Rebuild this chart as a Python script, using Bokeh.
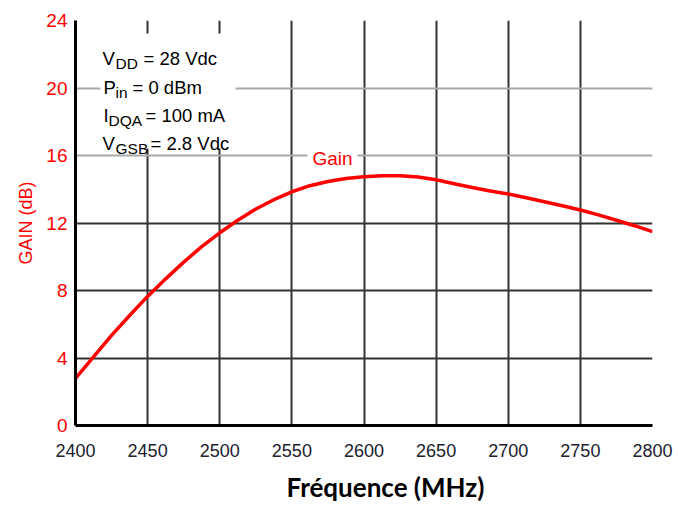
from bokeh.plotting import figure
from bokeh.models import Range1d, FixedTicker, Grid, Label, BoxAnnotation, Title
from bokeh.embed import file_html
from bokeh.resources import INLINE

# ---- data ----
freq_mhz = [2400, 2412.5, 2425, 2437.5, 2450, 2462.5, 2475, 2487.5, 2500,
            2512.5, 2525, 2537.5, 2550, 2562.5, 2575, 2587.5, 2600,
            2612.5, 2625, 2637.5, 2650, 2662.5, 2675, 2687.5, 2700,
            2712.5, 2725, 2737.5, 2750, 2762.5, 2775, 2787.5, 2800]
gain_db = [2.8, 4.06, 5.34, 6.52, 7.65, 8.69, 9.68, 10.6, 11.42,
           12.16, 12.83, 13.38, 13.85, 14.21, 14.46, 14.64, 14.74,
           14.8, 14.8, 14.72, 14.56, 14.33, 14.1, 13.9, 13.72,
           13.5, 13.26, 13.02, 12.77, 12.48, 12.16, 11.84, 11.49]
x_ticks = [2400, 2450, 2500, 2550, 2600, 2650, 2700, 2750, 2800]
y_ticks = [0, 4, 8, 12, 16, 20, 24]
black_grid_y = [4, 8, 12]
gray_grid_y = [16, 20, 24]
conditions = [("V", "DD", "= 28 Vdc"),
              ("P", "in", "= 0 dBm"),
              ("I", "DQA", "= 100 mA"),
              ("V", "GSB", "= 2.8 Vdc")]
series_name = "Gain"
x_title = "Fréquence (MHz)"
y_title = "GAIN (dB)"

FONT = "Liberation Sans"
RED = "#ff0000"

XMIN, XMAX, YMIN, YMAX = 2400, 2800, 0, 24
FL, FR, FT, FB = 75, 652, 20, 425  # frame edges in page px (annotation placement)


def dx(px):
    return XMIN + (px - FL) * (XMAX - XMIN) / (FR - FL)


def dy(py):
    return YMAX - (py - FT) * (YMAX - YMIN) / (FB - FT)


p = figure(width=676, height=512, output_backend="svg", toolbar_location=None,
           x_range=Range1d(XMIN, XMAX), y_range=Range1d(YMIN, YMAX),
           min_border_left=75, min_border_right=24, min_border_top=20,
           min_border_bottom=87)
p.outline_line_color = None
p.background_fill_color = "white"
p.border_fill_color = "white"

# axes
p.xaxis.ticker = FixedTicker(ticks=x_ticks)
p.yaxis.ticker = FixedTicker(ticks=y_ticks)
for ax in (p.xaxis[0], p.yaxis[0]):
    ax.axis_line_color = "black"
    ax.axis_line_width = 3
    ax.major_tick_out = 0
    ax.major_tick_in = 0
    ax.minor_tick_out = 0
    ax.minor_tick_in = 0
    ax.major_label_text_font = FONT
p.xaxis.major_label_text_font_size = "18px"
p.xaxis.major_label_text_color = "#20202e"
p.xaxis.major_label_standoff = 18
p.yaxis.major_label_text_font_size = "19px"
p.yaxis.major_label_text_color = RED
p.yaxis.major_label_standoff = 8
p.yaxis.axis_label = y_title
p.yaxis.axis_label_text_font = FONT
p.yaxis.axis_label_text_font_style = "normal"
p.yaxis.axis_label_text_font_size = "18px"
p.yaxis.axis_label_text_color = RED
p.yaxis.axis_label_standoff = 7

# grids
p.xgrid.ticker = FixedTicker(ticks=x_ticks)
p.xgrid.grid_line_color = "#333333"
p.xgrid.grid_line_width = 2
p.ygrid.ticker = FixedTicker(ticks=black_grid_y)
p.ygrid.grid_line_color = "#333333"
p.ygrid.grid_line_width = 2
g2 = Grid(dimension=1, ticker=FixedTicker(ticks=gray_grid_y),
          grid_line_color="#a8a8a8", grid_line_width=2)
p.add_layout(g2)

# white box behind the conditions text
p.add_layout(BoxAnnotation(left=dx(100), right=dx(235), top=dy(33), bottom=dy(148),
                           fill_color="white", fill_alpha=1.0, line_color=None))

# curve
p.line(freq_mhz, gain_db, line_color=RED, line_width=3.5, line_join="round")

# conditions text with subscripts
main_x = [102, 103, 103, 102]
sub_x = [115, 115, 108, 115]
rest_x = [143, 132, 145, 150]
base_y = [58, 86.5, 115, 143]
for i, (a, sub, rest) in enumerate(conditions):
    p.add_layout(Label(x=dx(main_x[i]), y=dy(base_y[i]), text=a, text_font=FONT,
                       text_font_size="18.5px", text_color="black",
                       text_baseline="alphabetic", text_align="left"))
    p.add_layout(Label(x=dx(sub_x[i]), y=dy(base_y[i] + 5), text=sub, text_font=FONT,
                       text_font_size="15.5px", text_color="black",
                       text_baseline="alphabetic", text_align="left"))
    p.add_layout(Label(x=dx(rest_x[i]), y=dy(base_y[i]), text=rest, text_font=FONT,
                       text_font_size="18.5px", text_color="black",
                       text_baseline="alphabetic", text_align="left"))

# series label
p.add_layout(Label(x=dx(332), y=dy(158), text=series_name, text_font=FONT,
                   text_font_size="19px", text_color=RED, text_align="center",
                   text_baseline="middle", background_fill_color="white",
                   background_fill_alpha=1.0, padding=5))

# x axis title
p.add_layout(Title(text=x_title, align="left", offset=211, standoff=19,
                   text_font="Lato", text_font_style="bold", text_font_size="26px",
                   text_color="black"), "below")

open("out.html", "w").write(file_html(p, INLINE))
